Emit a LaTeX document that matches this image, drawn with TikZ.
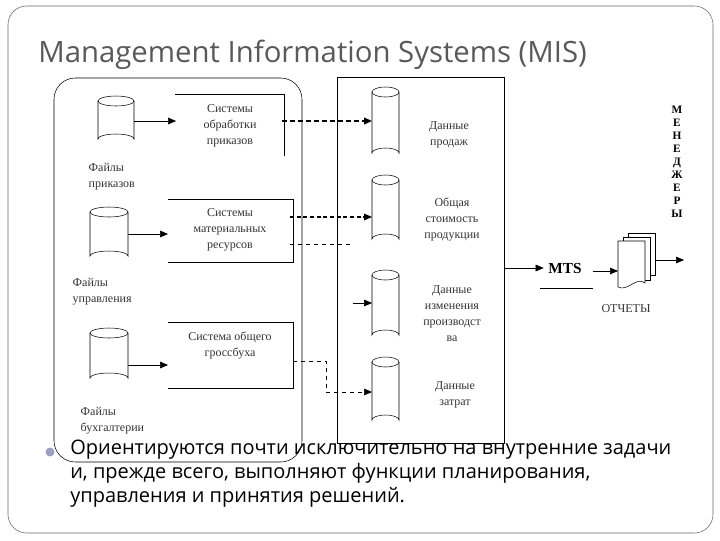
\documentclass[tikz,border=0pt]{standalone}
\usepackage{fontspec}
\setmainfont{Liberation Serif}
\newfontfamily\slidefont{Open Sans}
\usetikzlibrary{arrows.meta}
\begin{document}
\begin{tikzpicture}[x=0.75pt,y=-0.75pt,
  lbl/.style={font=\fontsize{9}{12}\selectfont,align=center,text=black!80},
  arr/.style={-{Triangle[length=6pt,width=5pt]},thin},
  dsh/.style={dashed,thin},
  thd/.style={dash pattern=on 4pt off 2pt,line width=1.3pt}]
\useasboundingbox (0,0) rectangle (720,540);
\draw[black!60,rounded corners=14] (8,6) rectangle (713,533);
\node[anchor=base west,font=\slidefont\fontsize{22}{26}\selectfont,text=black!65,inner sep=0] (title) at (38,62) {Management Information Systems (MIS)};
% left group
\draw[rounded corners=16] (54,78) rectangle (302,462);
\newcommand{\cyl}[4]{% x1 y1 x2 y2
  \draw (#1,#2+5) -- (#1,#4-5) arc[start angle=180,end angle=360,x radius={(#3-#1)/2},y radius=5] -- (#3,#2+5);
  \draw ({(#1+#3)/2},#2+5) ellipse[x radius={(#3-#1)/2},y radius=5];}
\cyl{98}{96}{134}{144}
\cyl{90}{207}{128}{261}
\cyl{90}{328}{128}{383}
\coordinate (c1) at (134,121); \coordinate (c2) at (128,234); \coordinate (c3) at (128,365);
\node[lbl,align=left,anchor=north west] (f1) at (84,159) {Файлы\\приказов};
\node[lbl,align=left,anchor=north west] (f2) at (68,274) {Файлы\\управления};
\node[lbl,align=left,anchor=north west] (f3) at (76,403) {Файлы\\бухгалтерии};
\draw (175,94) -- (284,94) -- (284,156);
\draw (168,199) -- (293,199) -- (293,262) -- (168,262);
\draw (168,322) -- (293,322) -- (293,388) -- (168,388);
\node[lbl] (s1) at (230,126) {Системы\\обработки\\приказов};
\node[lbl] (s2) at (230,230) {Системы\\материальных\\ресурсов};
\node[lbl] (s3) at (230,345) {Система общего\\гроссбуха};
\coordinate (b1) at (176,121); \coordinate (b2) at (168,234); \coordinate (b3) at (168,365);
\draw[arr] (c1) -- (b1); \draw[arr] (c2) -- (b2); \draw[arr] (c3) -- (b3);
% middle group
\draw (337,77) rectangle (504,443);
\cyl{372}{87}{399}{158}
\cyl{372}{175}{399}{244}
\cyl{372}{270}{399}{340}
\cyl{372}{357}{399}{425}
\node[lbl] (d1) at (449,135) {Данные\\продаж};
\node[lbl] (d2) at (452,219) {Общая\\стоимость\\продукции};
\node[lbl] (d3) at (452,314) {Данные\\изменения\\производст\\ва};
\node[lbl] (d4) at (455,395) {Данные\\затрат};
\coordinate (e1) at (372,121); \coordinate (e2) at (372,217); \coordinate (e3) at (372,303); \coordinate (e4) at (372,392);
\coordinate (o1) at (282,121); \coordinate (o2) at (290,217); \coordinate (o3) at (353,303);
\draw[thd,-{Triangle[length=6pt,width=5pt]}] (o1) -- (e1);
\draw[dash pattern=on 3pt off 2pt,line width=0.9pt,-{Triangle[length=6pt,width=5pt]}] (o2) -- (e2);
\draw[dsh] (290,244) -- (352,244);
\draw[arr] (o3) -- (e3);
\draw[dsh,-{Triangle[length=6pt,width=5pt]}] (293,361) -- (326,361) -- (326,392) -- (e4);
% MTS
\node[font=\bfseries\fontsize{11.5}{13}\selectfont] (mts) at (565,268) {MTS};
\draw[arr] (504,268) -- (mts.west);
\draw (540,288) -- (593,288);
\coordinate (rep) at (618,271);
\draw[arr] (593,271) -- (rep);
% reports icon
\draw[fill=white] (628,233) rectangle (655,275);
\draw[fill=white] (623,237) rectangle (650,280);
\draw[fill=white] (618,241) -- (645,241) -- (645,283) .. controls (636,276) and (628,292) .. (618,287) -- cycle;
\coordinate (ro) at (684,260);
\draw[arr] (655,260) -- (ro);
\node[lbl] (otch) at (626,309) {ОТЧЕТЫ};
\node[font=\bfseries\fontsize{8.5}{9.8}\selectfont,align=center,inner sep=0] (men) at (677,162) {М\\Е\\Н\\Е\\Д\\Ж\\Е\\Р\\Ы};
% bullet
\fill[blue!25!gray!60] (50,452) circle[radius=4.5];
\node[anchor=north west,font=\slidefont\fontsize{15}{18}\selectfont,align=left,inner sep=0] (txt) at (70,440)
 {Ориентируются почти исключительно на внутренние задачи\\и, прежде всего, выполняют функции планирования,\\управления и принятия решений.};
\end{tikzpicture}
\end{document}
